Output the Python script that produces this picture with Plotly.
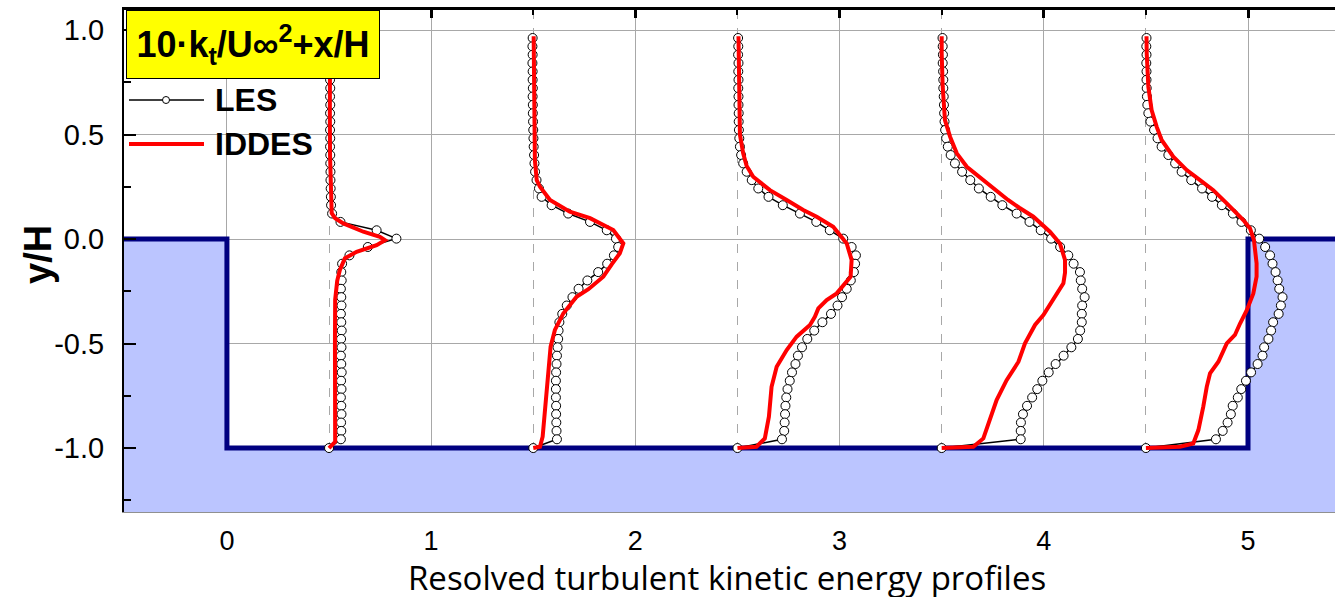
import plotly.graph_objects as go

# ---------------------------------------------------------------- data
# Sampling heights (y/H) of the LES profiles; the last point sits on the wall.
LES_Y = [0.962, 0.922, 0.882, 0.842, 0.802, 0.762, 0.722, 0.682, 0.642, 0.602,
         0.562, 0.522, 0.482, 0.442, 0.402, 0.362, 0.322, 0.282, 0.242, 0.202,
         0.162, 0.122, 0.082, 0.042, 0.002, -0.038, -0.078, -0.118, -0.158, -0.198,
         -0.238, -0.278, -0.318, -0.358, -0.398, -0.438, -0.478, -0.518, -0.558, -0.598,
         -0.638, -0.678, -0.718, -0.758, -0.798, -0.838, -0.878, -0.918, -0.958, -1.0]

# LES: 10*k_t/U^2 + x/H at stations x/H = 0.5 ... 4.5
LES_X05 = [0.506, 0.505, 0.506, 0.505, 0.506, 0.505, 0.506, 0.505, 0.506, 0.505,
           0.506, 0.505, 0.506, 0.505, 0.506, 0.506, 0.507, 0.507, 0.508, 0.509,
           0.510, 0.515, 0.556, 0.733, 0.830, 0.690, 0.600, 0.564, 0.560, 0.562,
           0.558, 0.560, 0.561, 0.558, 0.560, 0.562, 0.559, 0.561, 0.558, 0.560,
           0.562, 0.559, 0.561, 0.558, 0.560, 0.561, 0.559, 0.560, 0.558, 0.500]
LES_X15 = [1.497, 1.496, 1.497, 1.496, 1.497, 1.497, 1.498, 1.497, 1.498, 1.498,
           1.499, 1.500, 1.501, 1.502, 1.504, 1.506, 1.509, 1.516, 1.528, 1.541,
           1.590, 1.671, 1.778, 1.860, 1.905, 1.916, 1.895, 1.862, 1.818, 1.765,
           1.722, 1.692, 1.664, 1.642, 1.628, 1.624, 1.622, 1.619, 1.616, 1.614,
           1.612, 1.611, 1.611, 1.611, 1.612, 1.612, 1.613, 1.614, 1.616, 1.500]
LES_X25 = [2.503, 2.504, 2.503, 2.505, 2.504, 2.505, 2.504, 2.505, 2.505, 2.506,
           2.506, 2.507, 2.509, 2.512, 2.518, 2.528, 2.545, 2.570, 2.602, 2.652,
           2.722, 2.806, 2.886, 2.952, 3.018, 3.059, 3.080, 3.076, 3.070, 3.055,
           3.035, 3.012, 2.990, 2.958, 2.916, 2.876, 2.842, 2.816, 2.796, 2.784,
           2.767, 2.756, 2.745, 2.739, 2.735, 2.733, 2.731, 2.729, 2.718, 2.500]
LES_X35 = [3.504, 3.505, 3.506, 3.505, 3.507, 3.508, 3.508, 3.510, 3.511, 3.512,
           3.514, 3.517, 3.522, 3.530, 3.544, 3.565, 3.600, 3.640, 3.682, 3.740,
           3.797, 3.867, 3.930, 3.985, 4.036, 4.080, 4.120, 4.146, 4.177, 4.181,
           4.188, 4.200, 4.188, 4.186, 4.186, 4.178, 4.167, 4.135, 4.097, 4.058,
           4.024, 3.993, 3.968, 3.943, 3.918, 3.898, 3.888, 3.887, 3.887, 3.500]
LES_X45 = [4.503, 4.502, 4.503, 4.502, 4.503, 4.503, 4.504, 4.505, 4.507, 4.512,
           4.522, 4.540, 4.557, 4.577, 4.610, 4.643, 4.675, 4.722, 4.775, 4.824,
           4.872, 4.926, 4.968, 5.014, 5.055, 5.084, 5.108, 5.120, 5.135, 5.145,
           5.153, 5.169, 5.161, 5.150, 5.123, 5.113, 5.100, 5.079, 5.071, 5.047,
           5.015, 4.990, 4.967, 4.950, 4.925, 4.916, 4.900, 4.876, 4.843, 4.500]

# IDDES profiles (y/H, 10*k_t/U^2 + x/H)
IDDES_Y05 = [0.97, 0.80, 0.60, 0.40, 0.25, 0.16, 0.124, 0.10, 0.075, 0.055, 0.035,
             0.011, -0.005, -0.029, -0.061, -0.092, -0.148, -0.20, -0.29, -0.50,
             -0.70, -0.90, -0.97, -1.0]
IDDES_X05 = [0.505, 0.503, 0.504, 0.505, 0.507, 0.510, 0.513, 0.530, 0.570, 0.620, 0.668,
             0.749, 0.774, 0.733, 0.635, 0.578, 0.553, 0.540, 0.530, 0.529,
             0.529, 0.529, 0.530, 0.500]
IDDES_Y15 = [0.97, 0.75, 0.50, 0.378, 0.282, 0.25, 0.187, 0.131, 0.10, 0.043, -0.021,
             -0.068, -0.12, -0.18, -0.24, -0.276, -0.356, -0.435, -0.515, -0.643,
             -0.802, -0.946, -0.994, -1.0]
IDDES_X15 = [1.502, 1.503, 1.505, 1.508, 1.517, 1.533, 1.582, 1.679, 1.778, 1.892, 1.941,
             1.924, 1.885, 1.843, 1.770, 1.712, 1.647, 1.606, 1.585, 1.574,
             1.561, 1.546, 1.533, 1.500]
IDDES_Y25 = [0.97, 0.80, 0.60, 0.50, 0.41, 0.35, 0.298, 0.234, 0.187, 0.139, 0.107,
             0.059, -0.021, -0.10, -0.18, -0.244, -0.26, -0.292, -0.332, -0.372,
             -0.411, -0.467, -0.531, -0.611, -0.707, -0.85, -0.954, -0.994, -1.0]
IDDES_X25 = [2.505, 2.508, 2.510, 2.512, 2.528, 2.545, 2.577, 2.659, 2.741, 2.822, 2.888,
             2.969, 3.035, 3.059, 3.054, 3.002, 2.986, 2.937, 2.896, 2.879,
             2.855, 2.790, 2.741, 2.692, 2.667, 2.654, 2.634, 2.593, 2.500]
IDDES_Y35 = [0.97, 0.889, 0.729, 0.569, 0.49, 0.41, 0.346, 0.282, 0.219, 0.187, 0.15,
             0.107, 0.035, -0.021, -0.10, -0.16, -0.212, -0.292, -0.364, -0.411,
             -0.499, -0.587, -0.675, -0.77, -0.866, -0.954, -0.994, -1.0]
IDDES_X35 = [3.500, 3.500, 3.505, 3.516, 3.541, 3.574, 3.623, 3.704, 3.786, 3.825, 3.880,
             3.949, 4.030, 4.079, 4.104, 4.104, 4.096, 4.047, 3.998, 3.957,
             3.908, 3.876, 3.818, 3.769, 3.737, 3.704, 3.655, 3.500]
IDDES_Y45 = [0.97, 0.889, 0.729, 0.617, 0.537, 0.474, 0.394, 0.33, 0.282, 0.234, 0.171,
             0.123, 0.091, 0.051, -0.005, -0.116, -0.18, -0.26, -0.34, -0.404,
             -0.459, -0.499, -0.587, -0.643, -0.707, -0.802, -0.914, -0.978, -0.994, -1.0]
IDDES_X45 = [4.503, 4.504, 4.512, 4.528, 4.553, 4.577, 4.634, 4.700, 4.765, 4.830, 4.896,
             4.945, 4.977, 5.010, 5.029, 5.042, 5.042, 5.026, 4.994, 4.961,
             4.936, 4.896, 4.855, 4.814, 4.798, 4.781, 4.757, 4.732, 4.667, 4.500]

LES_SERIES = [LES_X05, LES_X15, LES_X25, LES_X35, LES_X45]
IDDES_SERIES = [(IDDES_Y05, IDDES_X05), (IDDES_Y15, IDDES_X15), (IDDES_Y25, IDDES_X25),
                (IDDES_Y35, IDDES_X35), (IDDES_Y45, IDDES_X45)]

# Cavity wall (x/H, y/H): step down at x=0, step up at x=5
CAVITY_X = [0.0, 0.0, 5.0, 5.0]
CAVITY_Y = [0.0, -1.0, -1.0, 0.0]

X_TICKS = [0, 1, 2, 3, 4, 5]
Y_TICKS = [-1.0, -0.5, 0.0, 0.5, 1.0]
X_RANGE = [-0.504, 5.426]
Y_RANGE = [-1.306, 1.096]

# ---------------------------------------------------------------- figure
WIDTH, HEIGHT = 1335, 600
ML, MR, MT, MB = 124, 0, 10, 88
PW, PH = WIDTH - ML - MR, HEIGHT - MT - MB


def px(xp):
    return (xp - ML) / PW


def py(yp):
    return (HEIGHT - MB - yp) / PH


WALL = "#000080"
FILL = "#BBC5FF"
GRID = "#A8A8A8"
AX_FONT = "Liberation Sans, Arial, sans-serif"

fig = go.Figure()

# solid region below the cavity outline
fx = [X_RANGE[0]] + CAVITY_X + [X_RANGE[1], X_RANGE[1], X_RANGE[0]]
fy = [CAVITY_Y[0]] + CAVITY_Y + [CAVITY_Y[-1], Y_RANGE[0], Y_RANGE[0]]
fig.add_trace(go.Scatter(x=fx, y=fy, mode="lines", fill="toself", fillcolor=FILL,
                         line=dict(width=0, color=FILL), hoverinfo="skip", showlegend=False))
wx = [X_RANGE[0]] + CAVITY_X + [X_RANGE[1]]
wy = [CAVITY_Y[0]] + CAVITY_Y + [CAVITY_Y[-1]]
fig.add_trace(go.Scatter(x=wx, y=wy, mode="lines", line=dict(color=WALL, width=5),
                         hoverinfo="skip", showlegend=False))

for xs in LES_SERIES:
    fig.add_trace(go.Scatter(
        x=xs, y=LES_Y, mode="lines+markers", name="LES", showlegend=False,
        line=dict(color="black", width=1.5),
        marker=dict(symbol="circle", size=9, color="white",
                    line=dict(color="black", width=1))))

for ys, xs in IDDES_SERIES:
    fig.add_trace(go.Scatter(
        x=xs, y=ys, mode="lines", name="IDDES", showlegend=False,
        line=dict(color="#FF0000", width=4)))

# invisible trace on the top axis so that its ticks are drawn
fig.add_trace(go.Scatter(x=X_RANGE, y=Y_RANGE, xaxis="x2", mode="markers",
                         marker=dict(opacity=0), hoverinfo="skip", showlegend=False))

fig.update_layout(
    width=WIDTH, height=HEIGHT,
    margin=dict(l=ML, r=MR, t=MT, b=MB, pad=0),
    paper_bgcolor="white", plot_bgcolor="white",
    xaxis=dict(range=X_RANGE, tickvals=X_TICKS, ticktext=[str(v) for v in X_TICKS],
               showgrid=True, gridcolor=GRID, gridwidth=1,
               minor=dict(dtick=0.5, tick0=0, showgrid=True, gridcolor=GRID,
                          griddash="dash", gridwidth=1, ticks=""),
               ticks="", showline=True, linecolor="#909090", linewidth=1,
               zeroline=False, tickfont=dict(family=AX_FONT, size=27, color="black"),
               ticklabelstandoff=5),
    xaxis2=dict(range=X_RANGE, overlaying="x", side="top", showgrid=False,
                zeroline=False, showticklabels=False, showline=True,
                linecolor="black", linewidth=3, ticks="inside", dtick=1, tick0=0,
                ticklen=8, tickwidth=3, tickcolor="black",
                minor=dict(dtick=0.5, tick0=0, ticks="inside", ticklen=5,
                           tickwidth=2, tickcolor="black", showgrid=False)),
    yaxis=dict(range=Y_RANGE, tickvals=Y_TICKS, ticktext=["%.1f" % v for v in Y_TICKS],
               showgrid=True, gridcolor=GRID, gridwidth=1, zeroline=False,
               showline=True, linecolor="black", linewidth=2,
               ticks="inside", ticklen=12, tickwidth=2, tickcolor="black",
               minor=dict(dtick=0.25, tick0=0, ticks="inside", ticklen=7,
                          tickwidth=2, tickcolor="black", showgrid=False),
               tickfont=dict(family=AX_FONT, size=29, color="black"),
               ticklabelstandoff=12),
    showlegend=False,
)

# axis titles
fig.add_annotation(xref="paper", yref="paper", x=px(38), y=py(255), text="<b>y/H</b>",
                   textangle=-90, showarrow=False, xanchor="center", yanchor="middle",
                   font=dict(family=AX_FONT, size=38, color="black"))
fig.add_annotation(xref="paper", yref="paper", x=px(727), y=py(577),
                   text="Resolved turbulent kinetic energy profiles",
                   showarrow=False, xanchor="center", yanchor="middle",
                   height=40, valign="middle",
                   font=dict(family="Open Sans, sans-serif", size=33, color="black"))

# quantity box
fig.add_annotation(xref="paper", yref="paper", x=px(126), y=py(10),
                   xanchor="left", yanchor="top", showarrow=False,
                   text="<b>10·k<sub>t</sub>/U∞<sup>2</sup>+x/H</b>",
                   font=dict(family=AX_FONT, size=36, color="black"),
                   bgcolor="#FFFF00", bordercolor="black", borderwidth=1, borderpad=2,
                   width=248, height=63, align="center", valign="middle")

# legend
fig.add_shape(type="line", xref="paper", yref="paper", x0=px(129), x1=px(204),
              y0=py(100), y1=py(100), line=dict(color="black", width=1.5))
fig.add_shape(type="circle", xref="paper", yref="paper", xsizemode="pixel",
              ysizemode="pixel", xanchor=px(166), yanchor=py(100),
              x0=-3.5, x1=3.5, y0=-3.5, y1=3.5,
              line=dict(color="black", width=1), fillcolor="white")
fig.add_shape(type="line", xref="paper", yref="paper", x0=px(129), x1=px(204),
              y0=py(144), y1=py(144), line=dict(color="#FF0000", width=4))
fig.add_annotation(xref="paper", yref="paper", x=px(213), y=py(100), text="<b>LES</b>",
                   showarrow=False, xanchor="left", yanchor="middle",
                   font=dict(family=AX_FONT, size=32, color="black"))
fig.add_annotation(xref="paper", yref="paper", x=px(213), y=py(144), text="<b>IDDES</b>",
                   showarrow=False, xanchor="left", yanchor="middle",
                   font=dict(family=AX_FONT, size=32, color="black"))

fig.write_html("out.html")
